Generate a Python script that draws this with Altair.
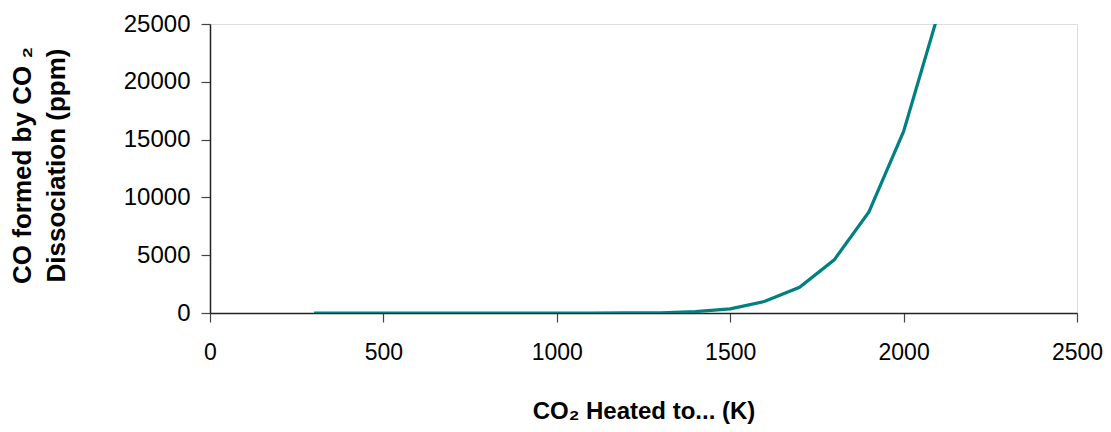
import altair as alt
import pandas as pd

temps = [300, 400, 500, 600, 700, 800, 900, 1000, 1100, 1200, 1300, 1400, 1500, 1600, 1700, 1800, 1900, 2000, 2100]
co_ppm = [0, 0, 0, 0, 0, 0, 0, 0, 1, 4, 20, 120, 360, 1010, 2220, 4600, 8750, 15700, 25900]

df = pd.DataFrame({"T": temps, "CO": co_ppm})

FONT = "Liberation Sans"

line = alt.Chart(df).mark_line(color="#008080", strokeWidth=3.2, clip=True).encode(
    x=alt.X("T:Q",
            scale=alt.Scale(domain=[0, 2500], nice=False, zero=True),
            axis=alt.Axis(values=[0, 500, 1000, 1500, 2000, 2500], title="CO₂ Heated to... (K)",
                          format="d",
                          grid=False, domainColor="#222222", domainWidth=1.5,
                          tickColor="#444444", tickWidth=1.2, tickSize=9,
                          labelFont=FONT, labelFontSize=23, labelColor="#000000",
                          labelPadding=19, labelFlush=False,
                          titleFont=FONT, titleFontSize=24, titleFontWeight="bold",
                          titleColor="#000000", titleY=86, titleBaseline="top")),
    y=alt.Y("CO:Q",
            scale=alt.Scale(domain=[0, 25000], nice=False),
            axis=alt.Axis(values=[0, 5000, 10000, 15000, 20000, 25000],
                          title=["CO formed by CO  ₂", "Dissociation (ppm)"],
                          format="d",
                          grid=False, domainColor="#222222", domainWidth=1.5,
                          tickColor="#444444", tickWidth=1.2, tickSize=9,
                          labelFont=FONT, labelFontSize=24, labelColor="#000000",
                          labelPadding=11, labelFlush=False,
                          titleFont=FONT, titleFontSize=26, titleFontWeight="bold",
                          titleColor="#000000", titleLineHeight=34,
                          titleX=-188, titleY=141, titleBaseline="middle",
                          titleAlign="center", titleAngle=270)),
)

chart = line.properties(
    width=867, height=289,
    autosize=alt.AutoSizeParams(type="none"),
    padding={"left": 202, "top": 16, "right": 26, "bottom": 111},
).configure_view(stroke="#888888", strokeWidth=2).configure(background="white")

chart.save("out.html", embed_options={"renderer": "svg", "actions": False})
